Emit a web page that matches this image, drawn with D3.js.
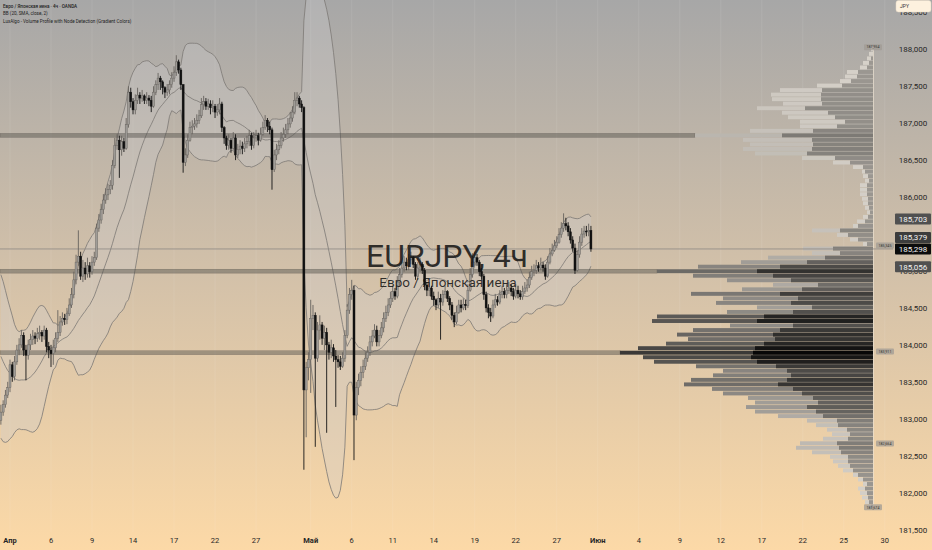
<!DOCTYPE html>
<html><head><meta charset="utf-8">
<script src="https://cdn.jsdelivr.net/npm/d3@7/dist/d3.min.js"></script>
<style>html,body{margin:0;padding:0;overflow:hidden;background:#d2c1a9}svg{display:block}</style>
</head><body><svg id="c" width="932" height="550"></svg>
<script>
// ---------- DATA ----------
const legendLines = ["Евро / Японская иена · 4ч · OANDA", "BB (20, SMA, close, 2)", "LuxAlgo - Volume Profile with Node Detection (Gradient Colors)"];
const watermarkTitle = "EURJPY, 4ч";
const watermarkSub = "Евро / Японская иена";
const currencyLabel = "JPY";

// 4h bars, bar index of first element (earlier bars are off-screen, used for BB warm-up)
const firstBar = -23;
const firstOpen = 184.66;
const closes = [
184.61,184.61,184.54,184.47,184.36,184.40,184.27,184.13,184.04,183.93,183.80,183.69,183.63,183.52,183.36,183.25,183.15,183.05,182.98,
183.09,183.19,183.32,183.42,
183.73,183.57,183.77,183.93,184.00,184.13,183.93,183.86,184.00,184.07,
184.12,184.09,184.15,184.17,184.12,184.20,183.98,183.93,183.88,183.96,
184.09,184.17,184.31,184.36,184.34,184.42,184.54,184.68,184.88,185.12,
185.20,184.93,185.04,184.96,185.07,184.99,185.12,185.18,185.58,185.69,
185.83,185.96,186.03,186.10,186.16,186.43,186.70,186.77,186.64,186.75,
186.66,186.98,187.42,187.29,187.18,187.31,187.38,187.34,187.37,187.31,
187.34,187.31,187.23,187.42,187.52,187.61,187.56,187.48,187.42,187.45,
187.52,187.61,187.69,187.83,187.72,187.52,186.47,186.57,186.77,186.94,
186.96,186.99,187.04,187.10,187.25,187.29,187.23,187.26,187.21,187.23,
187.15,187.18,187.26,186.94,186.80,186.70,186.77,186.66,186.80,186.57,
186.64,186.69,186.66,186.72,186.75,186.83,186.70,186.80,186.83,186.77,
186.85,186.94,187.04,186.96,186.91,186.37,186.57,186.64,186.70,186.80,
186.85,186.91,186.99,187.07,187.15,187.31,187.34,187.26,187.21,183.39,
183.69,183.80,184.36,184.40,183.82,184.20,184.27,184.09,184.17,184.00,
183.90,183.96,183.85,183.80,183.77,183.71,183.82,184.13,184.47,184.68,
184.74,183.05,183.42,183.52,183.63,183.71,183.82,183.90,184.04,184.12,
184.20,184.04,184.13,184.23,184.36,184.44,184.54,184.63,184.72,184.66,
184.85,184.95,185.04,185.12,185.07,185.15,185.18,185.09,184.93,185.04,
185.09,185.01,184.81,184.74,184.77,184.66,184.61,184.54,184.63,184.58,
184.68,184.72,184.63,184.54,184.40,184.31,184.44,184.54,184.50,184.55,
184.53,184.74,184.95,185.12,185.18,185.12,184.99,184.93,184.68,184.50,
184.44,184.39,184.54,184.61,184.58,184.68,184.72,184.68,184.74,184.77,
184.72,184.66,184.74,184.69,184.65,184.72,184.77,184.81,184.91,184.99,
185.01,185.07,185.04,185.08,185.04,184.93,185.12,185.23,185.28,185.34,
185.39,185.49,185.58,185.64,185.61,185.53,185.42,185.31,185.01,185.22,
185.39,185.50,185.54,185.53,185.55,185.298];
const highs = [
184.72,184.66,184.66,184.59,184.53,184.46,184.46,184.32,184.19,184.09,183.99,183.85,183.74,183.69,183.58,183.42,183.31,183.20,183.10,
183.19,183.25,183.39,183.50,
183.80,183.77,183.85,184.00,184.09,184.20,184.17,184.00,184.07,184.15,
184.20,184.17,184.23,184.26,184.20,184.26,184.23,184.04,184.00,184.07,
184.17,184.47,184.39,184.44,184.42,184.50,184.63,184.77,184.99,185.22,
185.55,185.26,185.15,185.12,185.18,185.12,185.20,185.26,185.64,185.77,
185.91,186.04,186.12,186.18,186.23,186.50,186.80,186.85,186.83,186.83,
186.80,187.07,187.50,187.48,187.34,187.39,187.48,187.42,187.45,187.39,
187.42,187.38,187.37,187.50,187.58,187.68,187.64,187.58,187.50,187.53,
187.58,187.69,187.77,187.92,187.86,187.75,187.53,186.66,186.85,187.02,
187.04,187.07,187.12,187.18,187.34,187.37,187.34,187.33,187.31,187.31,
187.26,187.26,187.34,187.29,186.96,186.83,186.85,186.80,186.88,186.85,
186.72,186.77,186.75,186.80,186.83,186.91,186.87,186.88,186.91,186.87,
186.94,187.02,187.11,187.07,187.02,186.94,186.64,186.72,186.77,186.88,
186.94,186.99,187.07,187.15,187.23,187.42,187.42,187.37,187.31,187.23,
183.77,183.90,184.61,184.54,184.44,184.31,184.40,184.31,184.26,184.23,
184.04,184.07,184.01,183.93,183.86,183.85,183.90,184.20,184.55,184.77,
184.88,184.80,183.50,183.61,183.71,183.80,183.90,183.98,184.12,184.20,
184.28,184.26,184.20,184.31,184.44,184.53,184.63,184.72,184.80,184.77,
184.93,185.04,185.12,185.20,185.18,185.23,185.26,185.20,185.12,185.12,
185.18,185.12,185.04,184.85,184.85,184.80,184.72,184.63,184.72,184.69,
184.74,184.80,184.74,184.66,184.58,184.44,184.53,184.61,184.61,184.63,
184.61,184.82,185.04,185.24,185.26,185.23,185.15,185.04,184.96,184.72,
184.55,184.50,184.61,184.69,184.66,184.74,184.80,184.77,184.82,184.85,
184.82,184.77,184.82,184.80,184.74,184.80,184.85,184.88,184.99,185.07,
185.09,185.15,185.12,185.18,185.12,185.09,185.20,185.31,185.37,185.42,
185.47,185.58,185.66,185.78,185.72,185.66,185.58,185.47,185.37,185.28,
185.47,185.58,185.61,185.61,185.64,185.61];
const lows = [
184.55,184.55,184.49,184.42,184.31,184.31,184.22,184.08,183.99,183.88,183.74,183.63,183.58,183.47,183.31,183.20,183.09,183.00,182.93,
182.92,183.04,183.15,183.28,
183.36,183.50,183.52,183.73,183.86,183.96,183.85,183.52,183.80,183.93,
184.00,184.01,184.04,184.07,184.04,184.07,183.90,183.82,183.70,183.73,
183.90,184.04,184.12,184.26,184.27,184.28,184.39,184.50,184.63,184.82,
185.07,184.88,184.85,184.88,184.91,184.91,184.95,185.07,185.15,185.53,
185.64,185.77,185.91,185.96,186.04,186.10,186.39,186.64,186.26,186.56,
186.61,186.64,186.94,187.21,187.12,187.12,187.26,187.26,187.29,187.26,
187.26,187.23,187.15,187.21,187.38,187.45,187.45,187.39,187.34,187.37,
187.39,187.48,187.56,187.64,187.67,187.45,186.33,186.42,186.53,186.75,
186.85,186.91,186.94,186.99,187.07,187.18,187.18,187.18,187.12,187.15,
187.07,187.10,187.12,186.88,186.72,186.64,186.64,186.60,186.64,186.50,
186.53,186.58,186.58,186.61,186.66,186.69,186.64,186.66,186.75,186.70,
186.75,186.83,186.91,186.88,186.85,186.10,186.34,186.50,186.58,186.66,
186.75,186.80,186.85,186.94,187.02,187.12,187.23,187.21,187.15,182.31,
182.75,183.52,183.35,184.20,182.62,183.77,184.07,184.00,183.93,182.81,
183.80,183.82,183.77,183.16,183.69,183.66,183.69,183.77,184.09,184.42,
184.61,182.44,182.98,183.32,183.44,183.55,183.66,183.77,183.85,183.98,
184.09,183.98,183.98,184.09,184.17,184.31,184.39,184.50,184.58,184.61,
184.63,184.80,184.91,184.99,185.01,185.01,185.09,185.04,184.88,184.88,
184.99,184.96,184.74,184.66,184.66,184.61,184.53,184.47,184.50,184.07,
184.53,184.63,184.58,184.47,184.34,184.24,184.28,184.42,184.44,184.47,
184.47,184.50,184.72,184.91,185.07,185.07,184.93,184.88,184.61,184.44,
184.36,184.31,184.36,184.50,184.53,184.55,184.63,184.63,184.63,184.69,
184.66,184.61,184.63,184.63,184.61,184.61,184.69,184.72,184.77,184.88,
184.93,184.96,184.99,185.01,184.99,184.88,184.91,185.09,185.20,185.26,
185.31,185.37,185.45,185.53,185.55,185.47,185.37,185.26,184.96,184.99,
185.18,185.34,185.45,185.47,185.47,185.26];

// time axis (bar index of each label)
const tickLabels = ["Апр","6","9","14","17","22","27","Май","6","11","14","19","22","27","Июн","4","9","12","17","22","25","30"];
const tickBars   = [0,18,36,54,72,90,108,132,150,168,186,204,222,240,258,276,294,312,330,348,366,384];
const monthTicks = ["Апр","Май","Июн"];
const priceTicks = [181.5,182,182.5,183,183.5,184,184.5,185,185.5,186,186.5,187,187.5,188,188.5];

// last values (BB upper, basis, lower) and last price
const bbLast = [185.703, 185.379, 185.056];
const lastPrice = 185.298;

// volume profile (rows from top to bottom)
const profTop = 188.03, profBot = 181.78;
const profTotal = [2,4,6,10,13,26,28,33,56,93,
102,101,90,116,91,85,73,73,123,178,
130,123,130,118,71,40,20,11,10,8,
13,13,13,11,10,8,6,10,16,20,
61,36,23,10,70,61,105,132,175,216,
180,146,100,131,182,150,157,116,146,216,
221,143,180,196,185,207,235,253,230,219,
177,150,160,182,189,161,150,125,118,127,
118,95,66,57,46,41,50,73,77,61,
43,40,35,30,20,15,10,15,13,11,
8,5];
const profInner = [0,0,2,4,6,15,16,22,31,51,
52,52,51,68,45,38,28,36,60,91,
61,60,61,66,38,23,10,8,5,4,
6,6,6,5,5,4,3,5,8,15,
33,25,15,6,40,33,48,66,93,116,
100,82,55,71,93,75,82,61,80,109,
116,80,93,100,98,109,118,120,122,116,
97,86,82,86,95,80,71,60,55,66,
57,50,36,35,26,23,25,36,34,32,
25,25,23,20,15,10,6,8,6,5,
4,2];
const nodeRows = [19, 49, 67];
const nodeLabels = [187.954, 185.345, 183.911, 182.664, 181.674];

// ---------- CHART ----------
const W = 932, H = 550, paneR = 893, paneB = 532;
const svg = d3.select("#c");
const defs = svg.append("defs");
const g = defs.append("linearGradient").attr("id","bg").attr("x1",0).attr("y1",0).attr("x2",0).attr("y2",1);
g.append("stop").attr("offset","0").attr("stop-color","#a7a7a7");
g.append("stop").attr("offset","0.5").attr("stop-color","#d3c1a9");
g.append("stop").attr("offset","1").attr("stop-color","#fcd9a7");
defs.append("clipPath").attr("id","pane").append("rect").attr("x",0).attr("y",0).attr("width",paneR).attr("height",paneB);

svg.append("rect").attr("width",W).attr("height",H).attr("fill","url(#bg)");

const x = d3.scaleLinear().domain([0,384]).range([10,884.8]);
const y = d3.scaleLinear().domain([181.5,188]).range([529.6,49.3]);
const fmt = v => v.toFixed(3).replace(".", ",");

const pane = svg.append("g").attr("clip-path","url(#pane)");

// grid
pane.append("g").selectAll("line").data(tickBars).join("line")
  .attr("x1",d=>x(d)).attr("x2",d=>x(d)).attr("y1",0).attr("y2",paneB)
  .attr("stroke","rgba(255,255,255,0.09)").attr("stroke-width",1);

// bars
const n = Math.min(closes.length, highs.length, lows.length);
const bars = d3.range(n).map(k => {
  const o = k ? closes[k-1] : firstOpen, c = closes[k];
  return {i:firstBar+k, o, c, h:Math.max(highs[k],o,c), l:Math.min(lows[k],o,c)};
});

// Bollinger Bands (20, SMA, 2)
const bb = [];
for (let k = 19; k < n; k++) {
  const w = closes.slice(k-19, k+1);
  const m = d3.mean(w);
  const sd = Math.sqrt(d3.mean(w, v => (v-m)*(v-m)));
  bb.push({i:bars[k].i, m, u:m+2*sd, l:m-2*sd});
}
pane.append("path").datum(bb)
  .attr("d", d3.area().x(d=>x(d.i)).y0(d=>y(d.l)).y1(d=>y(d.u)))
  .attr("fill","rgba(205,205,210,0.30)");
["u","m","l"].forEach(key => {
  pane.append("path").datum(bb)
    .attr("d", d3.line().x(d=>x(d.i)).y(d=>y(d[key])))
    .attr("fill","none").attr("stroke","#7c7975").attr("stroke-width",0.8);
});

// volume profile
const nRows = profTotal.length, vmax = d3.max(profTotal);
const poc = profTotal.indexOf(vmax);
const pw = d3.scaleLinear().domain([0,vmax]).range([0,253]);
const profRight = 873;
const rowPrice = j => profTop - j*(profTop-profBot)/nRows;
// gradient weight: volume share, fading with distance from the point of control
const weight = r => Math.pow(r.t/vmax,1.2) * Math.exp(-Math.pow((r.j-poc)/45,2));
const lightCol = w => d3.interpolateRgb("#d6d1c9","#3b3937")(Math.pow(w,1.1));
const innerCol = w => d3.interpolateRgb("#9c9892","#070707")(w);
const prof = pane.append("g");
const rows = d3.range(nRows).map(j => ({j, y0:y(rowPrice(j)), y1:y(rowPrice(j+1)), t:profTotal[j], d:profInner[j]}));
// node lines extended to the left
prof.selectAll("rect.node").data(rows.filter(r=>nodeRows.includes(r.j))).join("rect")
  .attr("x",0).attr("y",r=>r.y0+0.3).attr("width",r=>profRight-pw(r.t)).attr("height",r=>r.y1-r.y0-0.6)
  .attr("fill","rgba(88,85,80,0.48)").attr("stroke","rgba(60,58,55,0.4)").attr("stroke-width",0.5);
prof.selectAll("rect.tot").data(rows).join("rect")
  .attr("x",r=>profRight-pw(r.t)).attr("y",r=>r.y0+0.3).attr("width",r=>pw(r.t)).attr("height",r=>r.y1-r.y0-0.6)
  .attr("fill",r=>lightCol(weight(r)));
prof.selectAll("rect.inn").data(rows.filter(r=>r.d>0)).join("rect")
  .attr("x",r=>profRight-pw(r.d)).attr("y",r=>r.y0+0.3).attr("width",r=>pw(r.d)).attr("height",r=>r.y1-r.y0-0.6)
  .attr("fill",r=>innerCol(weight(r)));
prof.append("line").attr("x1",profRight+0.5).attr("x2",profRight+0.5)
  .attr("y1",y(profTop)).attr("y2",y(profBot)).attr("stroke","rgba(235,225,210,0.7)").attr("stroke-width",1);

// current price line
pane.append("line").attr("x1",0).attr("x2",paneR).attr("y1",y(lastPrice)).attr("y2",y(lastPrice))
  .attr("stroke","#8d8985").attr("stroke-width",0.8);

// candles
const bw = 2;
const cg = pane.append("g");
cg.selectAll("line").data(bars).join("line")
  .attr("x1",d=>x(d.i)).attr("x2",d=>x(d.i)).attr("y1",d=>y(d.h)).attr("y2",d=>y(d.l))
  .attr("stroke",d=>d.c>=d.o?"#66625e":"#141414").attr("stroke-width",0.9);
cg.selectAll("rect").data(bars).join("rect")
  .attr("x",d=>x(d.i)-bw/2).attr("width",bw)
  .attr("y",d=>y(Math.max(d.o,d.c)))
  .attr("height",d=>Math.max(0.9, Math.abs(y(d.o)-y(d.c))))
  .attr("fill",d=>d.c>=d.o?"#9f9c97":"#111")
  .attr("stroke",d=>d.c>=d.o?"#66625e":"#111").attr("stroke-width",0.45);

// watermark (on top, slightly transparent)
pane.append("text").attr("x",447).attr("y",267).attr("text-anchor","middle")
  .attr("font-family","Roboto, 'Liberation Sans', sans-serif").attr("font-size",32)
  .attr("fill","rgba(18,18,18,0.85)").text(watermarkTitle);
pane.append("text").attr("x",448).attr("y",287).attr("text-anchor","middle")
  .attr("font-family","Roboto, 'Liberation Sans', sans-serif").attr("font-size",13.5)
  .attr("fill","rgba(18,18,18,0.85)").text(watermarkSub);

// profile node labels
const nl = svg.append("g");
nodeLabels.forEach((v,k) => {
  const edge = (k===0 || k===nodeLabels.length-1);
  const cy = k===0 ? y(v)-5.5 : (k===nodeLabels.length-1 ? y(v)-9.5 : y(v));
  const x0 = edge ? 864 : 876;
  nl.append("rect").attr("x",x0).attr("y",cy-3).attr("width",18).attr("height",6).attr("rx",1)
    .attr("fill","rgba(160,155,148,0.75)");
  nl.append("text").attr("x",x0+9).attr("y",cy+1.3).attr("text-anchor","middle")
    .attr("font-family","Roboto, sans-serif").attr("font-size",3.6).attr("fill","#333").text(fmt(v));
});

// price axis
const axisFont = "Roboto, 'Liberation Sans', sans-serif";
svg.append("g").selectAll("text").data(priceTicks).join("text")
  .attr("x",913).attr("y",d=>y(d)+2.9).attr("text-anchor","middle")
  .attr("font-family",axisFont).attr("font-size",8).attr("fill","#262626").text(fmt);

// value boxes with simple collision avoidance
const boxes = [
  {v:bbLast[0], fill:"#505050"},
  {v:bbLast[1], fill:"#3c3c3c"},
  {v:lastPrice, fill:"#0c0c0c", fixed:true},
  {v:bbLast[2], fill:"#505050"}
].map(b => ({...b, cy:y(b.v)}));
const fixed = boxes.find(b=>b.fixed);
const above = boxes.filter(b=>!b.fixed && b.cy<=fixed.cy).sort((a,b)=>b.cy-a.cy);
const below = boxes.filter(b=>!b.fixed && b.cy>fixed.cy).sort((a,b)=>a.cy-b.cy);
let prev = fixed.cy; above.forEach(b=>{ b.cy = Math.min(b.cy, prev-11.5); prev=b.cy; });
prev = fixed.cy; below.forEach(b=>{ b.cy = Math.max(b.cy, prev+11.5); prev=b.cy; });
const bxg = svg.append("g");
boxes.forEach(b => {
  bxg.append("rect").attr("x",895).attr("y",b.cy-5.5).attr("width",36).attr("height",11).attr("rx",1).attr("fill",b.fill);
  bxg.append("text").attr("x",913).attr("y",b.cy+2.9).attr("text-anchor","middle")
    .attr("font-family",axisFont).attr("font-size",8).attr("fill","#f2f2f2").text(fmt(b.v));
});

// JPY button
svg.append("rect").attr("x",896).attr("y",0.5).attr("width",35).attr("height",11.5).attr("rx",2.5)
  .attr("fill","#fdf1de").attr("stroke","#e6d9c4").attr("stroke-width",0.5);
svg.append("text").attr("x",900).attr("y",8.3).attr("font-family",axisFont).attr("font-size",5)
  .attr("fill","#333").text(currencyLabel);

// time axis
svg.append("g").selectAll("text").data(tickBars).join("text")
  .attr("x",d=>x(d)).attr("y",543).attr("text-anchor","middle")
  .attr("font-family",axisFont).attr("font-size",7.5)
  .attr("font-weight",(d,k)=>monthTicks.includes(tickLabels[k])?"bold":"normal")
  .attr("fill","#262626").text((d,k)=>tickLabels[k]);

// legend
svg.append("g").selectAll("text").data(legendLines).join("text")
  .attr("x",3).attr("y",(d,k)=>8+k*7.3)
  .attr("font-family",axisFont).attr("font-size",4.6)
  .attr("font-weight",(d,k)=>k===0?"500":"normal")
  .attr("fill","#222").text(d=>d);
</script>
</body></html>
